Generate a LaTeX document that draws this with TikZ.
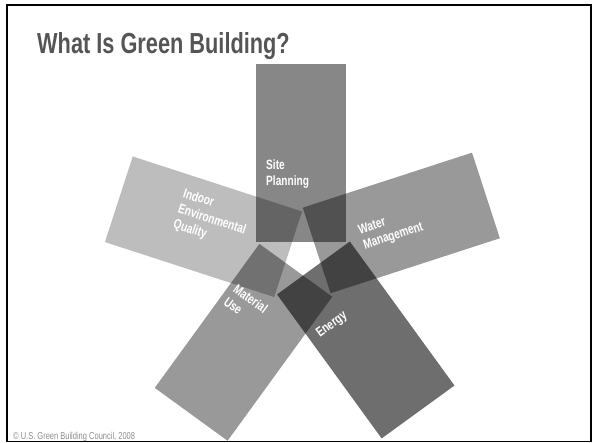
\documentclass[tikz,border=0pt]{standalone}
\usepackage{fontspec}
\newfontfamily\gbcond[FakeStretch=0.75]{Liberation Sans}
\usepackage{tikz}
\usetikzlibrary{positioning}
\definecolor{titlegray}{HTML}{555555}
\definecolor{notegray}{HTML}{8C8C8C}
\tikzset{
  petal label/.style={text=white, font=\gbcond\bfseries\fontsize{13.5}{16}\selectfont, align=left, inner sep=0pt},
}

\begin{document}
\begin{tikzpicture}[x=1pt,y=-1pt]
\useasboundingbox (0,0) rectangle (593,443);
% slide frame
\draw[line width=1.2pt] (7,5) rectangle (591,441.5);
\draw[line width=2.6pt] (7,442) -- (7,5) -- (591.5,5);
% title
\node[anchor=base west, inner sep=0pt, text=titlegray, font=\gbcond\bfseries\fontsize{29}{34}\selectfont] (title) at (37,54) {What Is Green Building?};
% five petals round the pentagon
\foreach \i/\op in {0/0.47,1/0.40,2/0.57,3/0.40,4/0.26}
  \fill[black, fill opacity=\op, shift={(303,257)}, rotate=-72*\i] (-47,-193) rectangle (43,-15);
% labels
\node[petal label, anchor=north west] (site) at (266,160) {Site\\Planning};
\node[petal label, rotate=18] (water) at (391,229) {Water\\Management};
\node[petal label, rotate=36] (energy) at (332,325) {Energy};
\node[petal label, rotate=-36] (material) at (246,305) {Material\\Use};
\node[petal label, rotate=-18] (indoor) at (212,220) {Indoor\\Environmental\\Quality};
% credit line
\node[anchor=base west, inner sep=0pt, text=notegray, font=\gbcond\fontsize{10}{12}\selectfont] (credit) at (13,439) {© U.S. Green Building Council, 2008};
\end{tikzpicture}
\end{document}
